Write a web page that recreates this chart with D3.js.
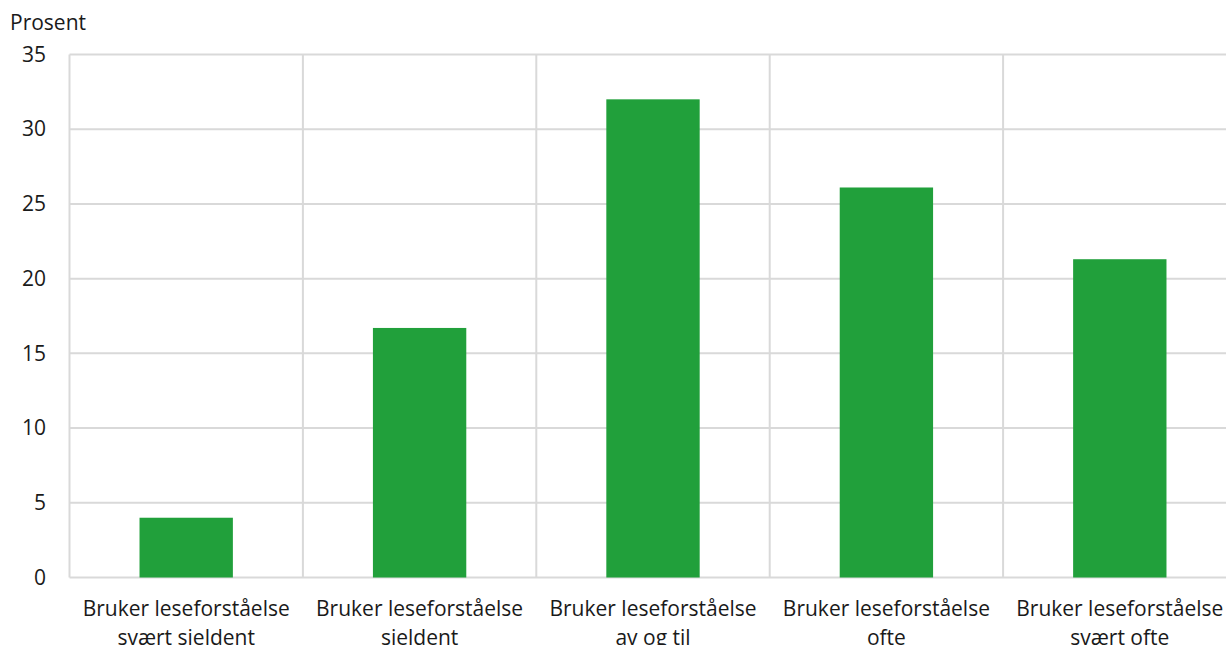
<!DOCTYPE html>
<html><head><meta charset="utf-8">
<script src="https://cdn.jsdelivr.net/npm/d3@7"></script>
<style>body{margin:0;background:#fff;overflow:hidden}text{font-family:"Open Sans",sans-serif;fill:#1a1a1a}</style>
</head><body><svg id="c" width="1226" height="645"></svg>
<script>
const categories = [
  ["Bruker leseforståelse", "svært sjeldent"],
  ["Bruker leseforståelse", "sjeldent"],
  ["Bruker leseforståelse", "av og til"],
  ["Bruker leseforståelse", "ofte"],
  ["Bruker leseforståelse", "svært ofte"]
];
const values = [4.0, 16.7, 32.0, 26.1, 21.3];
const yTicks = [0, 5, 10, 15, 20, 25, 30, 35];
const yLabel = "Prosent";

(function () {
const svg = d3.select("#c");
const mL = 69.5, mR = 1236.5, mT = 54.5, mB = 577.5;
const fs = 21;
const x = d3.scaleBand().domain(d3.range(categories.length)).range([mL, mR]).paddingInner(0).paddingOuter(0);
const y = d3.scaleLinear().domain([0, 35]).range([mB, mT]);
const grid = "#d9d9d9";

svg.append("g").selectAll("line").data(yTicks).join("line")
  .attr("x1", mL).attr("x2", mR).attr("y1", d => y(d)).attr("y2", d => y(d))
  .attr("stroke", grid).attr("stroke-width", 2);
const bounds = d3.range(categories.length + 1).map(i => mL + i * x.bandwidth());
svg.append("g").selectAll("line").data(bounds).join("line")
  .attr("x1", d => d).attr("x2", d => d).attr("y1", mT).attr("y2", mB)
  .attr("stroke", grid).attr("stroke-width", 2);

const bw = x.bandwidth() * 0.4;
svg.append("g").selectAll("rect").data(values).join("rect")
  .attr("x", (d, i) => x(i) + (x.bandwidth() - bw) / 2)
  .attr("width", bw)
  .attr("y", d => y(d)).attr("height", d => y(0) - y(d))
  .attr("fill", "#21a03b");

const yAxis = d3.axisLeft(y).tickValues(yTicks).tickSize(0).tickPadding(0);
const ga = svg.append("g").attr("transform", "translate(46,0)").call(yAxis);
ga.select(".domain").remove();
ga.selectAll("text").attr("font-size", fs).attr("fill", "#1a1a1a").attr("font-family", "Open Sans");

svg.append("text").attr("x", 10).attr("y", 29.5).attr("font-size", fs).text(yLabel);

const xl = svg.append("g").selectAll("text").data(categories).join("text")
  .attr("x", (d, i) => x(i) + x.bandwidth() / 2).attr("y", 616)
  .attr("text-anchor", "middle").attr("font-size", fs);
xl.selectAll("tspan").data(d => d).join("tspan")
  .attr("x", function () { return d3.select(this.parentNode).attr("x"); })
  .attr("dy", (d, i) => i === 0 ? 0 : 29).text(d => d);
})();
</script></body></html>
